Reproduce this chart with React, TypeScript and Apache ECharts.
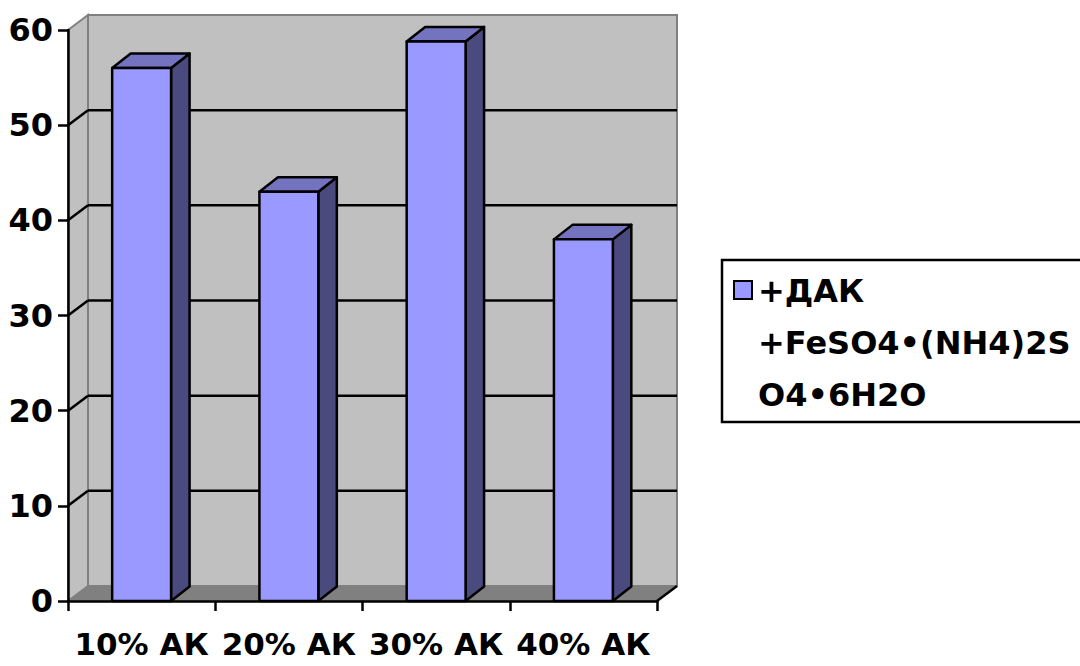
import React, { useEffect, useRef } from "react";
import * as echarts from "echarts";

const categories = ["10% АК", "20% АК", "30% АК", "40% АК"];
const values = [56, 43, 58.8, 38];
const yTicks = [10, 20, 30, 40, 50];
const legendLines = ["+ДАК", "+FeSO4•(NH4)2S", "O4•6H2O"];
const seriesName = "+ДАК +FeSO4•(NH4)2SO4•6H2O";

const FONT = "'DejaVu Sans', sans-serif";
const WALL_DX = 20;
const WALL_DY = -15;
const BAR_DX = 18.5;
const BAR_DY = -14.5;

export default function App() {
  const ref = useRef<HTMLDivElement>(null);

  useEffect(() => {
    if (!ref.current) return;
    const chart = echarts.init(ref.current, null, { renderer: "svg" });

    const wallItem = (params: any, api: any) => {
      const cs = params.coordSys;
      const x0 = cs.x;
      const y0 = cs.y;
      const w = cs.width;
      const h = cs.height;
      const yb = y0 + h;
      const wallStyle = { fill: "#C0C0C0", stroke: "#808080", lineWidth: 2 };
      const children: any[] = [
        {
          type: "polygon",
          shape: { points: [[x0, y0], [x0 + WALL_DX, y0 + WALL_DY], [x0 + WALL_DX, yb + WALL_DY], [x0, yb]] },
          style: wallStyle,
        },
        {
          type: "rect",
          shape: { x: x0 + WALL_DX, y: y0 + WALL_DY, width: w, height: h },
          style: wallStyle,
        },
        {
          type: "polygon",
          shape: { points: [[x0, yb], [x0 + WALL_DX, yb + WALL_DY], [x0 + w + WALL_DX, yb + WALL_DY], [x0 + w, yb]] },
          style: { fill: "#808080", stroke: "#808080", lineWidth: 1 },
        },
        {
          type: "line",
          shape: { x1: x0 + w, y1: yb, x2: x0 + w + WALL_DX, y2: yb + WALL_DY },
          style: { stroke: "#000", lineWidth: 2.5 },
        },
      ];
      yTicks.forEach((v) => {
        const yy = api.coord([0, v])[1];
        children.push({
          type: "line",
          shape: { x1: x0 + WALL_DX, y1: yy + WALL_DY, x2: x0 + w + WALL_DX, y2: yy + WALL_DY },
          style: { stroke: "#000", lineWidth: 2.5 },
        });
        children.push({
          type: "line",
          shape: { x1: x0, y1: yy, x2: x0 + WALL_DX, y2: yy + WALL_DY },
          style: { stroke: "#000", lineWidth: 2.5 },
        });
      });
      return { type: "group", children };
    };

    const barItem = (params: any, api: any) => {
      const idx = api.value(0);
      const top = api.coord([idx, api.value(1)]);
      const base = api.coord([idx, 0]);
      const bw = api.size([1, 0])[0] * 0.4;
      const xl = top[0] - bw / 2;
      const xr = top[0] + bw / 2;
      const yt = top[1];
      const yb = base[1];
      const edge = { stroke: "#000", lineWidth: 2.5, lineJoin: "round" };
      return {
        type: "group",
        children: [
          {
            type: "polygon",
            shape: { points: [[xr, yt], [xr + BAR_DX, yt + BAR_DY], [xr + BAR_DX, yb + BAR_DY], [xr, yb]] },
            style: { fill: "#4A4A7F", ...edge },
          },
          {
            type: "polygon",
            shape: { points: [[xl, yt], [xl + BAR_DX, yt + BAR_DY], [xr + BAR_DX, yt + BAR_DY], [xr, yt]] },
            style: { fill: "#7373BF", ...edge },
          },
          {
            type: "rect",
            shape: { x: xl, y: yt, width: xr - xl, height: yb - yt },
            style: { fill: "#9999FF", ...edge },
          },
        ],
      };
    };

    chart.setOption({
      animation: false,
      backgroundColor: "#ffffff",
      grid: { left: 68, top: 30, width: 589, height: 571 },
      xAxis: {
        type: "category",
        data: categories,
        z: 5,
        axisLine: { show: true, lineStyle: { color: "#000", width: 2.5 } },
        axisTick: { show: true, interval: 0, length: 10, lineStyle: { color: "#000", width: 2.5 } },
        axisLabel: {
          interval: 0,
          color: "#000",
          fontFamily: FONT,
          fontWeight: "bold",
          fontSize: 31,
          margin: 27,
        },
        splitLine: { show: false },
      },
      yAxis: {
        type: "value",
        min: 0,
        max: 60,
        interval: 10,
        z: 5,
        axisLine: { show: true, lineStyle: { color: "#000", width: 2.5 } },
        axisTick: { show: true, length: 10, lineStyle: { color: "#000", width: 2.5 } },
        axisLabel: {
          color: "#000",
          fontFamily: FONT,
          fontWeight: "bold",
          fontSize: 32,
          margin: 15,
        },
        splitLine: { show: false },
      },
      series: [
        {
          type: "custom",
          name: "walls",
          z: 1,
          silent: true,
          renderItem: wallItem,
          data: [[0, 0]],
        },
        {
          type: "custom",
          name: seriesName,
          z: 3,
          renderItem: barItem,
          data: values.map((v, i) => [i, v]),
        },
      ],
      graphic: [
        {
          type: "rect",
          shape: { x: 722, y: 260, width: 380, height: 162 },
          style: { fill: "#fff", stroke: "#000", lineWidth: 2.5 },
        },
        {
          type: "rect",
          shape: { x: 734, y: 281, width: 18, height: 18 },
          style: { fill: "#9999FF", stroke: "#000", lineWidth: 2 },
        },
        {
          type: "text",
          x: 758,
          y: 265,
          style: {
            text: legendLines.join("\n"),
            font: "bold 32px 'DejaVu Sans', sans-serif",
            fill: "#000",
            lineHeight: 52,
            verticalAlign: "top",
            align: "left",
          },
        },
      ],
    });

    return () => chart.dispose();
  }, []);

  return (
    <div
      ref={ref}
      style={{ position: "absolute", left: 0, top: 0, width: 1080, height: 666 }}
    />
  );
}
